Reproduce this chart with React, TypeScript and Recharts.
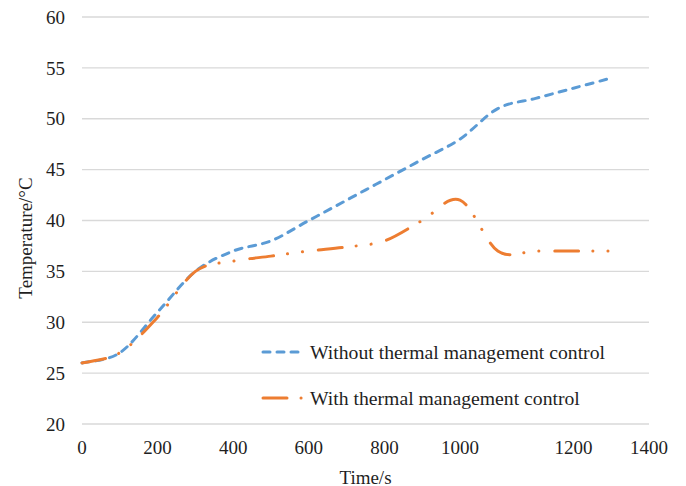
import { LineChart, Line, XAxis, YAxis, CartesianGrid, Legend } from "recharts"

const times = [0, 100, 200, 300, 400, 500, 600, 700, 800, 900, 1000, 1100, 1200, 1300, 1400]
const withoutControl = [26, 27, 31, 35, 37, 38, 40, 42, 44, 46, 48, 51, 52, 53, 54]
const withControl = [26, 27, 30.5, 35, 36, 36.5, 37, 37.4, 38, 40, 42, 37, 37, 37, 37]

// the x labels in the source are not evenly spaced: 1200 and 1400 sit further right
const xTickValues = [0, 200, 400, 600, 800, 1000, 1300, 1500]
const xTickLabels = ["0", "200", "400", "600", "800", "1000", "1200", "1400"]
const yTicks = [20, 25, 30, 35, 40, 45, 50, 55, 60]

const seriesNames = ["Without thermal management control", "With thermal management control"]

const data = times.map((t, i) => ({ t, without: withoutControl[i], with: withControl[i] }))

const FONT = '"Liberation Serif", "Times New Roman", serif'
const TEXT = "#1f1f1f"
const BLUE = "#5B9BD5"
const ORANGE = "#ED7D31"
const BLUE_DASH = "7 7"
const ORANGE_DASH = "24 14 0.1 15 0.1 15.9"

// Excel-like smoothed line (Catmull-Rom through the points)
function excelSmooth(context: any) {
  let xs: number[] = []
  let ys: number[] = []
  return {
    areaStart() {},
    areaEnd() {},
    lineStart() { xs = []; ys = [] },
    point(x: number, y: number) { xs.push(+x); ys.push(+y) },
    lineEnd() {
      const n = xs.length
      if (!n) return
      context.moveTo(xs[0], ys[0])
      for (let i = 0; i < n - 1; i++) {
        const x0 = i > 0 ? xs[i - 1] : xs[i], y0 = i > 0 ? ys[i - 1] : ys[i]
        const x3 = i + 2 < n ? xs[i + 2] : xs[i + 1], y3 = i + 2 < n ? ys[i + 2] : ys[i + 1]
        context.bezierCurveTo(
          xs[i] + (xs[i + 1] - x0) / 6, ys[i] + (ys[i + 1] - y0) / 6,
          xs[i + 1] - (x3 - xs[i]) / 6, ys[i + 1] - (y3 - ys[i]) / 6,
          xs[i + 1], ys[i + 1]
        )
      }
    },
  }
}

function LegendBox() {
  const rows = [
    { name: seriesNames[0], color: BLUE, dash: BLUE_DASH },
    { name: seriesNames[1], color: ORANGE, dash: ORANGE_DASH },
  ]
  return (
    <div style={{ fontFamily: FONT, fontSize: 19.7, color: TEXT }}>
      {rows.map(r => (
        <div key={r.name} style={{ display: "flex", alignItems: "center", height: 46 }}>
          <svg width={50} height={10} style={{ display: "block" }}>
            <line x1={3} y1={5} x2={42} y2={5} stroke={r.color} strokeWidth={3} strokeDasharray={r.dash} strokeLinecap="round" />
          </svg>
          <span style={{ whiteSpace: "nowrap" }}>{r.name}</span>
        </div>
      ))}
    </div>
  )
}

export default function App() {
  return (
    <div style={{ position: "absolute", left: 0, top: 0, background: "#fff" }}>
      <LineChart width={686} height={486} data={data} margin={{ top: 17, right: 37, bottom: 0, left: 0 }}>
        <CartesianGrid vertical={false} stroke="#d9d9d9" strokeWidth={1.3} />
        <XAxis
          dataKey="t"
          type="number"
          domain={[0, 1500]}
          ticks={xTickValues}
          tickFormatter={(v: number) => xTickLabels[xTickValues.indexOf(v)]}
          interval={0}
          height={62}
          axisLine={false}
          tickLine={false}
          tickSize={0}
          tickMargin={17}
          tick={{ fontFamily: FONT, fontSize: 19, fill: TEXT }}
          label={{
            content: () => (
              <text x={365.5} y={477} textAnchor="middle" dominantBaseline="central" fontFamily={FONT} fontSize={19} fill={TEXT}>Time/s</text>
            ),
          }}
        />
        <YAxis
          type="number"
          domain={[20, 60]}
          ticks={yTicks}
          width={82}
          axisLine={false}
          tickLine={false}
          tickSize={0}
          tickMargin={17}
          tick={{ fontFamily: FONT, fontSize: 19, fill: TEXT }}
          label={{
            content: () => (
              <text x={25} y={238} transform="rotate(-90 25 238)" textAnchor="middle" dominantBaseline="central" fontFamily={FONT} fontSize={19} fill={TEXT}>Temperature/°C</text>
            ),
          }}
        />
        <Legend
          layout="vertical"
          align="center"
          verticalAlign="middle"
          content={() => <LegendBox />}
          wrapperStyle={{ left: 260, top: 329, width: 400 }}
        />
        <Line dataKey="without" name={seriesNames[0]} type={excelSmooth as any} stroke={BLUE} strokeWidth={3} strokeDasharray={BLUE_DASH} strokeLinecap="round" dot={false} activeDot={false} isAnimationActive={false} />
        <Line dataKey="with" name={seriesNames[1]} type={excelSmooth as any} stroke={ORANGE} strokeWidth={3} strokeDasharray={ORANGE_DASH} strokeLinecap="round" dot={false} activeDot={false} isAnimationActive={false} />
      </LineChart>
    </div>
  )
}
